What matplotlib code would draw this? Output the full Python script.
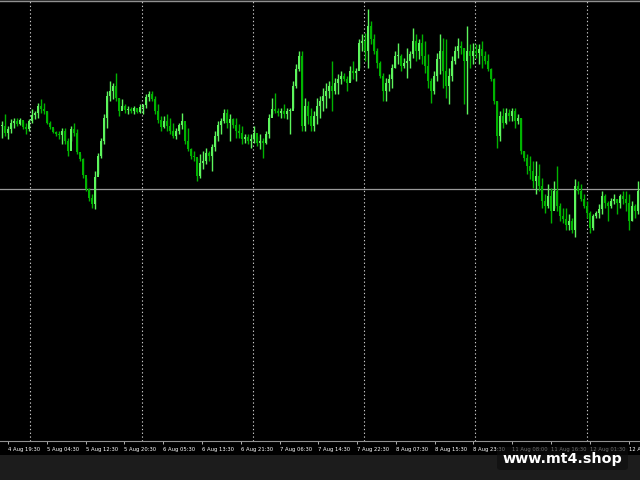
import numpy as np
import matplotlib
matplotlib.use('Agg')
import matplotlib.pyplot as plt
from matplotlib.patches import FancyBboxPatch, Rectangle

# данные свечей: пункты над базовой ценой 1.3000 (1 пункт = 0.0001)
base_price = 1.3000
point = 0.0001

high_pts = [130, 137, 125, 132, 133, 133, 133, 130, 128, 132,
            142, 140, 148, 152, 148, 140, 130, 123, 120, 120,
            123, 123, 113, 125, 128, 122, 97, 93, 73, 63,
            57, 80, 98, 113, 137, 160, 170, 168, 178, 153,
            152, 147, 145, 144, 145, 143, 147, 147, 157, 160,
            160, 155, 147, 135, 135, 137, 133, 128, 123, 128,
            138, 127, 123, 103, 100, 93, 97, 100, 103, 100,
            107, 120, 130, 133, 142, 142, 137, 133, 133, 127,
            125, 117, 117, 117, 125, 115, 117, 113, 120, 137,
            153, 158, 143, 143, 147, 143, 143, 170, 187, 200,
            200, 153, 150, 143, 140, 153, 155, 163, 168, 170,
            190, 173, 177, 180, 178, 175, 185, 190, 183, 212,
            217, 218, 242, 230, 217, 203, 190, 178, 173, 177,
            187, 200, 208, 197, 193, 203, 200, 223, 217, 212,
            217, 210, 197, 173, 180, 198, 217, 213, 212, 183,
            195, 205, 213, 210, 203, 225, 207, 208, 207, 207,
            210, 200, 197, 183, 173, 150, 140, 143, 143, 142,
            143, 143, 137, 133, 100, 97, 95, 90, 90, 87,
            73, 57, 67, 63, 70, 85, 48, 43, 43, 37,
            33, 72, 70, 67, 57, 50, 40, 37, 40, 47,
            60, 57, 50, 53, 57, 52, 57, 60, 60, 57,
            50, 47, 70, 50]

low_pts = [113, 115, 112, 118, 123, 125, 126, 122, 117, 120,
           128, 132, 133, 138, 137, 127, 122, 118, 115, 112,
           107, 107, 95, 110, 115, 97, 90, 73, 60, 50,
           43, 42, 77, 93, 107, 123, 150, 152, 150, 135,
           142, 138, 137, 138, 137, 138, 138, 137, 143, 150,
           150, 137, 128, 120, 123, 120, 117, 113, 112, 117,
           122, 107, 100, 92, 90, 70, 73, 82, 87, 90,
           80, 100, 110, 117, 128, 123, 110, 123, 113, 113,
           107, 108, 107, 103, 108, 105, 102, 93, 107, 113,
           137, 138, 135, 133, 133, 132, 117, 143, 163, 180,
           120, 120, 127, 120, 120, 127, 133, 140, 143, 153,
           140, 157, 157, 167, 170, 160, 170, 172, 170, 183,
           200, 190, 183, 207, 197, 183, 173, 150, 150, 160,
           163, 183, 187, 180, 183, 173, 183, 193, 190, 192,
           187, 178, 163, 148, 157, 170, 177, 163, 153, 147,
           170, 187, 193, 197, 147, 137, 183, 187, 193, 187,
           183, 187, 180, 170, 147, 103, 110, 123, 127, 130,
           130, 123, 127, 97, 90, 77, 72, 63, 57, 60,
           43, 38, 43, 27, 43, 40, 30, 27, 20, 20,
           17, 13, 57, 50, 43, 33, 17, 20, 33, 33,
           37, 43, 30, 43, 47, 37, 43, 47, 40, 20,
           30, 33, 37, 33]

close_pts = [125, 118, 122, 128, 130, 127, 131, 124, 122, 130,
             136, 138, 145, 142, 140, 128, 124, 119, 117, 116,
             120, 110, 100, 122, 118, 99, 92, 76, 62, 53,
             47, 74, 95, 110, 133, 155, 160, 165, 153, 140,
             145, 141, 142, 140, 143, 139, 144, 146, 154, 157,
             152, 140, 131, 124, 130, 125, 120, 115, 120, 126,
             130, 110, 102, 95, 94, 75, 88, 90, 98, 95,
             104, 115, 126, 130, 138, 128, 132, 126, 120, 118,
             112, 114, 110, 112, 118, 108, 110, 108, 117, 133,
             142, 140, 138, 140, 137, 140, 140, 165, 182, 195,
             125, 145, 135, 125, 135, 145, 150, 155, 160, 165,
             160, 168, 172, 175, 172, 168, 180, 178, 180, 208,
             210, 200, 225, 212, 200, 188, 175, 160, 168, 172,
             183, 195, 195, 185, 188, 190, 197, 210, 200, 208,
             195, 185, 170, 160, 175, 192, 200, 180, 165, 175,
             190, 200, 205, 203, 190, 200, 195, 200, 198, 202,
             195, 190, 182, 172, 150, 115, 135, 128, 138, 135,
             140, 130, 133, 100, 93, 85, 80, 70, 75, 65,
             50, 45, 55, 40, 60, 45, 35, 32, 25, 30,
             20, 65, 60, 52, 45, 38, 22, 35, 38, 42,
             55, 48, 45, 50, 52, 48, 55, 52, 48, 30,
             45, 40, 60, 40]

level_pts = 62  # горизонтальная линия

time_labels = ['4 Aug 19:30', '5 Aug 04:30', '5 Aug 12:30', '5 Aug 20:30',
               '6 Aug 05:30', '6 Aug 13:30', '6 Aug 21:30', '7 Aug 06:30',
               '7 Aug 14:30', '7 Aug 22:30', '8 Aug 07:30', '8 Aug 15:30',
               '8 Aug 23:30', '11 Aug 08:00', '11 Aug 16:30', '12 Aug 01:30',
               '12 Aug 10:00']

# цены
highs = base_price + np.array(high_pts) * point
lows = base_price + np.array(low_pts) * point
closes = base_price + np.array(close_pts) * point
opens = np.r_[closes[0], closes[:-1]]
idx = np.arange(len(highs))

fig = plt.figure(figsize=(6.4, 4.8), dpi=100, facecolor='#1c1c1c')
# чёрная полоса под подписями времени
fig.patches.append(Rectangle((0, 25 / 480), 1, 16 / 480, transform=fig.transFigure,
                             facecolor='black', edgecolor='none', zorder=-10))
ax = fig.add_axes([0, 39 / 480, 1, 440 / 480])
ax.set_facecolor('black')

up = closes >= opens
col = np.where(up, '#5cf55c', '#00b400')

# тени
ax.vlines(idx, lows, highs, colors=col, linewidth=1.0, zorder=3)
# тела свечей
body_lo = np.minimum(opens, closes)
body_h = np.maximum(np.abs(closes - opens), point * 0.6)
ax.bar(idx, body_h, bottom=body_lo, width=0.85, color=col, edgecolor='none', zorder=4)

# горизонтальный уровень
ax.axhline(base_price + level_pts * point, color='#9a9a9a', linewidth=0.9, zorder=2)

# вертикальная сетка
for gx in np.arange(9.4, len(idx), 37.1):
    ax.axvline(gx, color='#c8c8c8', linewidth=0.8, linestyle=(0, (1.2, 2.2)), zorder=1)

ax.set_xlim(-2 / 3, -2 / 3 + 640 / 3)
ax.set_ylim(base_price - 191 * point, base_price + 250 * point)

# подписи времени
tick_pos = 2 + 12.93 * np.arange(len(time_labels))
ax.set_xticks(tick_pos)
ax.set_xticklabels(time_labels, fontsize=3.8, color='white', ha='left')
ax.tick_params(axis='x', direction='out', length=2.5, width=0.7, color='#b0b0b0', pad=1.5)
ax.set_yticks([])

for s in ['left', 'right']:
    ax.spines[s].set_visible(False)
ax.spines['top'].set_color('#909090')
ax.spines['bottom'].set_color('#909090')
ax.spines['top'].set_linewidth(1.0)
ax.spines['bottom'].set_linewidth(0.8)

# водяной знак
fig.patches.append(FancyBboxPatch((497 / 640, 10 / 480), 131 / 640, 23 / 480,
                                  boxstyle='round,pad=0,rounding_size=0.006',
                                  transform=fig.transFigure, facecolor='#0c0c0c',
                                  edgecolor='none', alpha=0.6, zorder=5))
fig.text(562 / 640, 21.5 / 480, 'www.mt4.shop', color='white', fontsize=10.3,
         fontweight='bold', ha='center', va='center', zorder=6)

fig.savefig('out.png', dpi=100, facecolor=fig.get_facecolor())
